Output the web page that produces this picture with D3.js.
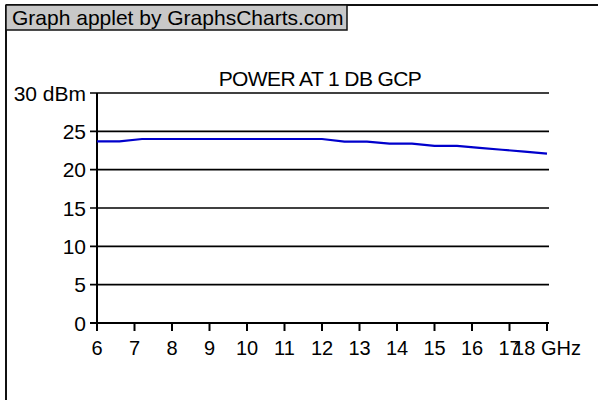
<!DOCTYPE html>
<html>
<head>
<meta charset="utf-8">
<script src="https://cdn.jsdelivr.net/npm/d3@7"></script>
<style>
  body { margin: 0; background: #fff; }
  svg { display: block; font-family: Arial, "Liberation Sans", sans-serif; }
</style>
</head>
<body>
<svg id="chart" width="598" height="400"></svg>
<script>
// frequency in GHz, 0.6 GHz steps
const freqs = [6, 6.6, 7.2, 7.8, 8.4, 9, 9.6, 10.2, 10.8, 11.4, 12, 12.6, 13.2, 13.8, 14.4, 15, 15.6, 16.2, 16.8, 17.4, 18];
// power at 1 dB gain compression (dBm)
const power = [23.7, 23.7, 24, 24, 24, 24, 24, 24, 24, 24, 24, 23.65, 23.65, 23.4, 23.4, 23.1, 23.1, 22.85, 22.6, 22.35, 22.1];
const xTicks = [6, 7, 8, 9, 10, 11, 12, 13, 14, 15, 16, 17, 18];
const yTicks = [0, 5, 10, 15, 20, 25, 30];

const svg = d3.select('#chart');

const x = d3.scaleLinear().domain([6, 18]).range([97, 547]);
const y = d3.scaleLinear().domain([0, 30]).range([323, 93]);

// outer frame (top + left edges only)
svg.append('line').attr('x1', 6).attr('x2', 598).attr('y1', 5).attr('y2', 5)
  .attr('stroke', '#111').attr('stroke-width', 2);
svg.append('line').attr('x1', 6).attr('x2', 6).attr('y1', 5).attr('y2', 400)
  .attr('stroke', '#111').attr('stroke-width', 2);

// header box
svg.append('rect').attr('x', 6).attr('y', 5).attr('width', 341).attr('height', 25)
  .attr('fill', '#c8c8c8').attr('stroke', '#111').attr('stroke-width', 1.5);
svg.append('text').attr('x', 12).attr('y', 25).style('font-size', '21px').attr('fill', '#000')
  .text('Graph applet by GraphsCharts.com');

// title
svg.append('text').attr('x', 320).attr('y', 86).attr('text-anchor', 'middle')
  .style('font-size', '21px').style('letter-spacing', '-0.6px')
  .text('POWER AT 1 DB GCP');

// gridlines + y ticks
svg.append('g').selectAll('line').data(yTicks).join('line')
  .attr('x1', 90).attr('x2', 549)
  .attr('y1', d => y(d)).attr('y2', d => y(d))
  .attr('stroke', '#000').attr('stroke-width', d => d === 0 ? 2 : 1.6);

svg.append('g').selectAll('text').data(yTicks).join('text')
  .attr('x', 86).attr('y', d => y(d)).attr('dy', '0.36em')
  .attr('text-anchor', 'end').style('font-size', '21px')
  .text(d => d === 30 ? '30 dBm' : d);

// y axis line
svg.append('line').attr('x1', x(6)).attr('x2', x(6)).attr('y1', y(30)).attr('y2', y(0))
  .attr('stroke', '#000').attr('stroke-width', 2);

// x ticks
svg.append('g').selectAll('line').data(xTicks).join('line')
  .attr('x1', d => x(d)).attr('x2', d => x(d))
  .attr('y1', y(0)).attr('y2', y(0) + 8)
  .attr('stroke', '#000').attr('stroke-width', 2);

svg.append('g').selectAll('text').data(xTicks).join('text')
  .attr('x', d => x(d)).attr('y', 355)
  .attr('text-anchor', 'middle').style('font-size', '20px')
  .text(d => d === 18 ? '18 GHz' : d);

// data line
const line = d3.line().x((d, i) => x(freqs[i])).y(d => y(d));
svg.append('path').datum(power)
  .attr('d', line)
  .attr('fill', 'none').attr('stroke', '#0000cc').attr('stroke-width', 2.2);
</script>
</body>
</html>
